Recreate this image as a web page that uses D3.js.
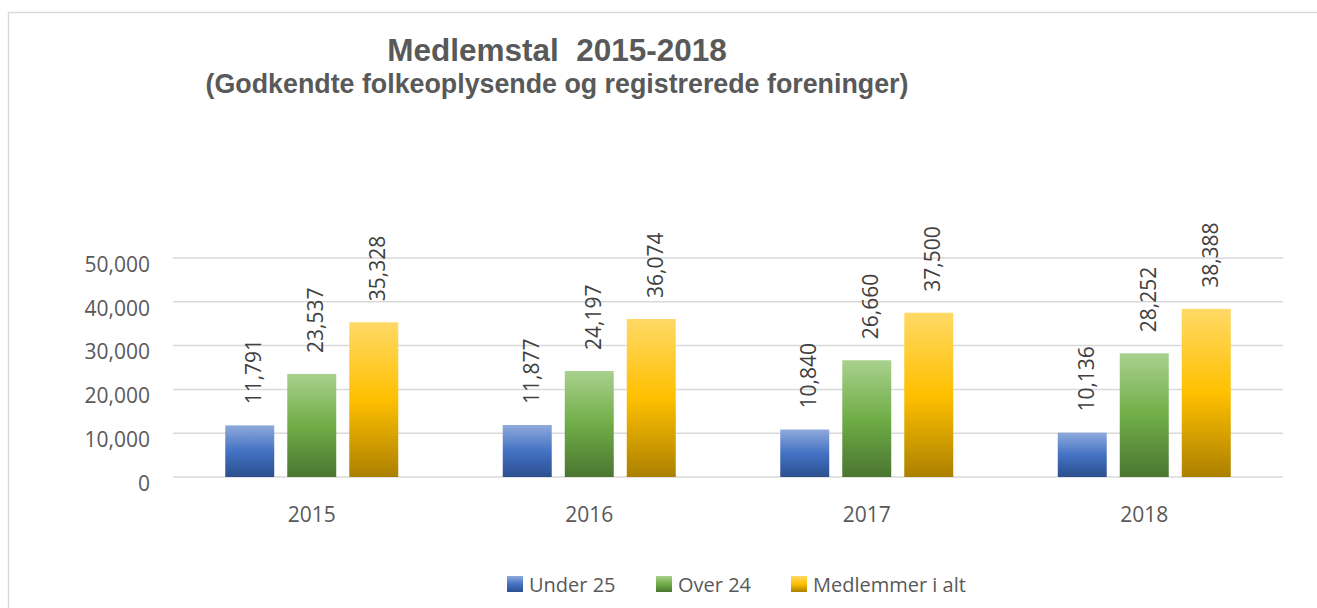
<!DOCTYPE html>
<html>
<head>
<meta charset="utf-8">
<script src="https://cdnjs.cloudflare.com/ajax/libs/d3/7.8.5/d3.min.js"></script>
<style>
	body { margin: 0; background: #fff; }
	svg { display: block; }
	.axis text { font-family: "Open Sans", sans-serif; font-size: 21px; fill: #595959; }
	.lbl { font-family: "Open Sans", sans-serif; font-size: 21px; fill: #404040; }
	.leg { font-family: "Open Sans", sans-serif; font-size: 20px; fill: #595959; }
	.title { font-family: "Liberation Sans", Arial, sans-serif; font-weight: bold; fill: #595959; }
</style>
</head>
<body>
<svg width="1317" height="608"></svg>
<script>
	// data
	var years = ["2015", "2016", "2017", "2018"];
	var seriesNames = ["Under 25", "Over 24", "Medlemmer i alt"];
	var under25 = [11791, 11877, 10840, 10136];
	var over24 = [23537, 24197, 26660, 28252];
	var total = [35328, 36074, 37500, 38388];
	var yTicks = [0, 10000, 20000, 30000, 40000, 50000];

	var values = [under25, over24, total];
	var gradStops = [
		["#8faadc", "#4472c4", "#2c4f8f"],
		["#a9d18e", "#70ad47", "#4a7631"],
		["#ffd966", "#ffc000", "#ab8000"]
	];

	var svg = d3.select("svg");

	// chart area border
	svg.append("rect")
		.attr("x", 8.5).attr("y", 12.5)
		.attr("width", 1320).attr("height", 610)
		.attr("fill", "none")
		.attr("stroke", "#d9d9d9")
		.attr("stroke-width", 1.5);

	var defs = svg.append("defs");
	gradStops.forEach(function(c, i){
		var g = defs.append("linearGradient")
			.attr("id", "grad" + i)
			.attr("x1", 0).attr("y1", 0).attr("x2", 0).attr("y2", 1);
		g.append("stop").attr("offset", "0%").attr("stop-color", c[0]);
		g.append("stop").attr("offset", "50%").attr("stop-color", c[1]);
		g.append("stop").attr("offset", "100%").attr("stop-color", c[2]);
	});

	var x0 = d3.scaleBand().domain(years).range([173, 1283]);
	var groupW = 173;
	var x1 = d3.scaleBand().domain(seriesNames).range([0, groupW]).paddingInner(0.21);
	var y = d3.scaleLinear().domain([0, 50000]).range([477, 258]);

	// gridlines
	svg.append("g")
		.selectAll("line")
		.data(yTicks)
		.join("line")
		.attr("x1", 173).attr("x2", 1283)
		.attr("y1", function(d){ return y(d); })
		.attr("y2", function(d){ return y(d); })
		.attr("stroke", "#d9d9d9")
		.attr("stroke-width", 1.5);

	// y axis labels
	var yAxis = svg.append("g")
		.attr("class", "axis")
		.attr("transform", "translate(150,6.5)")
		.call(d3.axisLeft(y).tickValues(yTicks).tickFormat(d3.format(",")).tickSize(0).tickPadding(0));
	yAxis.select(".domain").remove();

	// x axis labels
	var xAxis = svg.append("g")
		.attr("class", "axis")
		.attr("transform", "translate(0,480)")
		.call(d3.axisBottom(x0).tickSize(0).tickPadding(27));
	xAxis.select(".domain").remove();

	var off = (x0.bandwidth() - groupW) / 2;

	var groups = svg.append("g")
		.selectAll("g")
		.data(years)
		.join("g")
		.attr("transform", function(d){ return "translate(" + (x0(d) + off) + ",0)"; });

	var cells = groups.selectAll("g")
		.data(function(d, i){
			return seriesNames.map(function(s, j){ return {s: s, j: j, v: values[j][i]}; });
		})
		.join("g");

	cells.append("rect")
		.attr("x", function(d){ return x1(d.s); })
		.attr("width", x1.bandwidth())
		.attr("y", function(d){ return y(d.v); })
		.attr("height", function(d){ return y(0) - y(d.v); })
		.attr("fill", function(d){ return "url(#grad" + d.j + ")"; });

	cells.append("text")
		.attr("class", "lbl")
		.attr("transform", function(d){
			return "translate(" + (x1(d.s) + x1.bandwidth() / 2 + 11.5) + "," + (y(d.v) - 21) + ") rotate(-90)";
		})
		.text(function(d){ return d3.format(",")(d.v); });

	// titles
	svg.append("text")
		.attr("class", "title")
		.attr("x", 557).attr("y", 61)
		.attr("text-anchor", "middle")
		.style("font-size", "31.5px")
		.style("white-space", "pre")
		.text("Medlemstal  2015-2018");

	svg.append("text")
		.attr("class", "title")
		.attr("x", 557).attr("y", 93)
		.attr("text-anchor", "middle")
		.style("font-size", "26.8px")
		.text("(Godkendte folkeoplysende og registrerede foreninger)");

	// legend
	var legX = [507, 656, 791];
	var leg = svg.append("g")
		.selectAll("g")
		.data(seriesNames)
		.join("g")
		.attr("transform", function(d, i){ return "translate(" + legX[i] + ",576)"; });
	leg.append("rect")
		.attr("width", 16).attr("height", 16)
		.attr("fill", function(d, i){ return "url(#grad" + i + ")"; });
	leg.append("text")
		.attr("class", "leg")
		.attr("x", 22).attr("y", 16)
		.text(function(d){ return d; });
</script>
</body>
</html>
